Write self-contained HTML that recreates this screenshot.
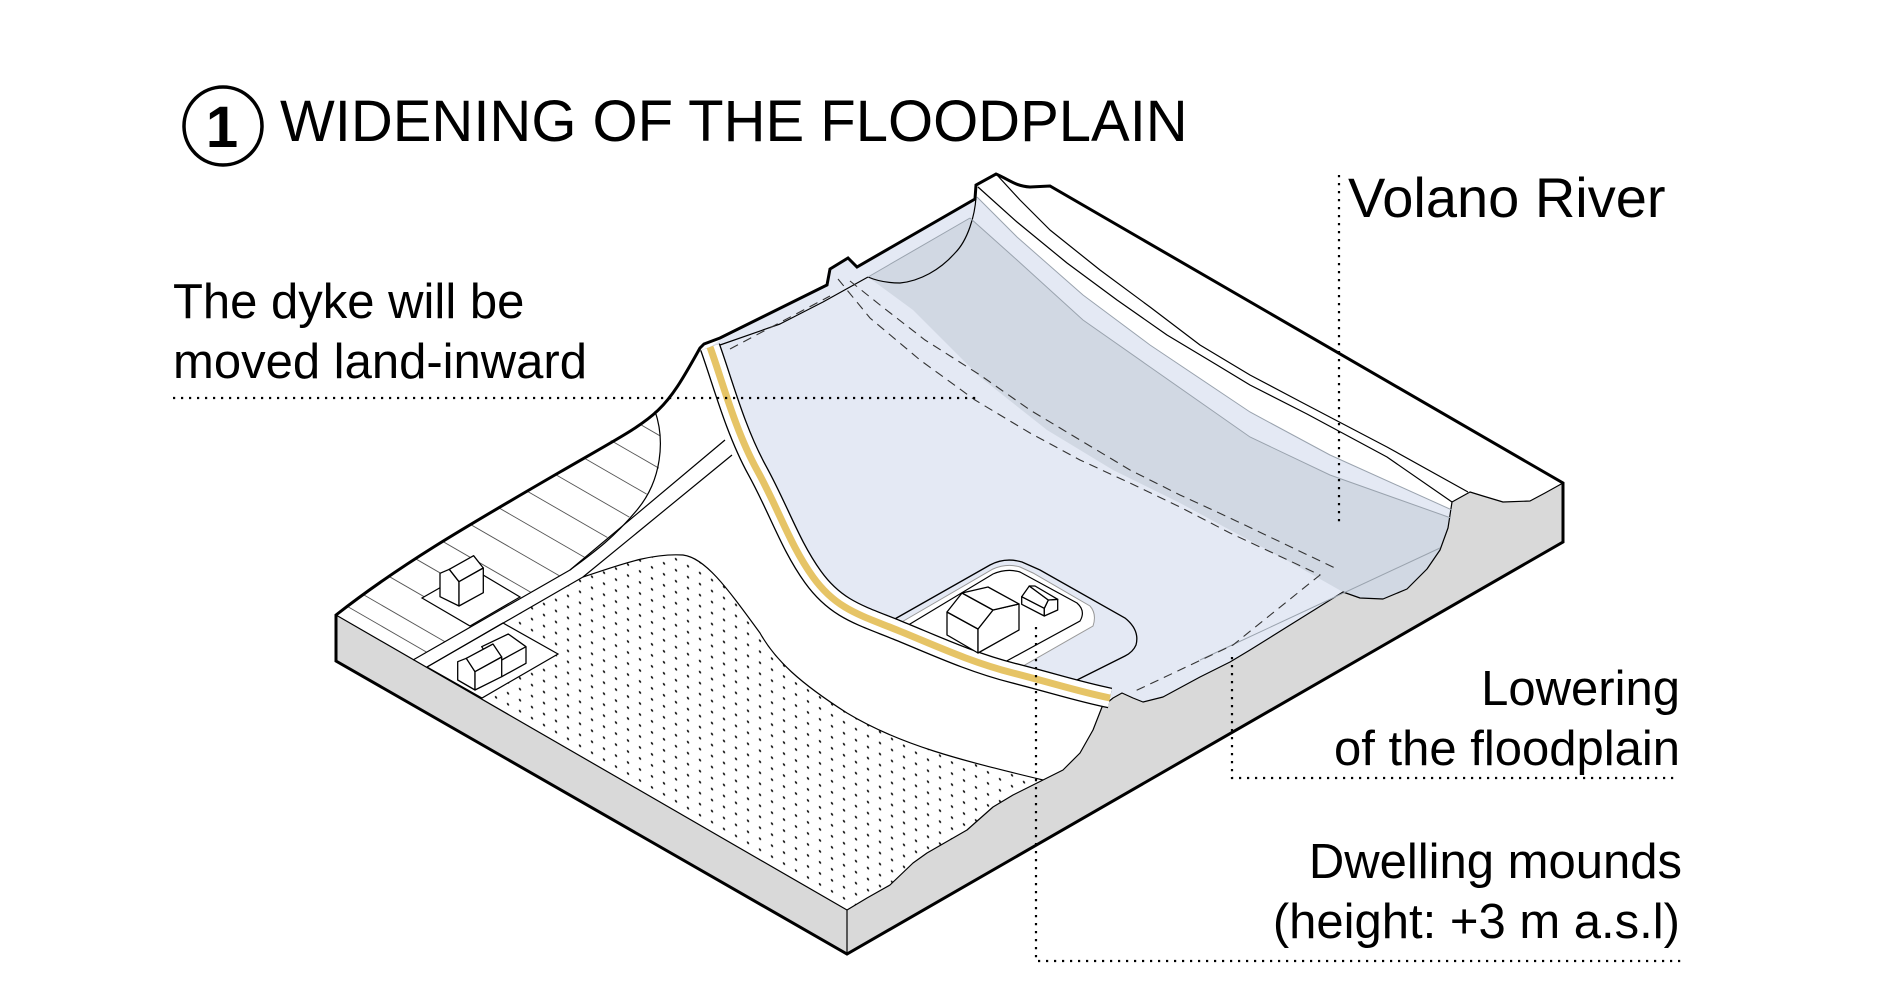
<!DOCTYPE html>
<html><head><meta charset="utf-8">
<style>
html,body{margin:0;padding:0;background:#fff}
svg{display:block}
text{font-family:"Liberation Sans",Arial,sans-serif;fill:#000}
</style></head>
<body>
<svg width="1892" height="998" viewBox="0 0 1892 998" xmlns="http://www.w3.org/2000/svg">
<defs>
  <pattern id="dots" width="12" height="11" patternUnits="userSpaceOnUse" patternTransform="skewY(30)">
    <circle cx="4" cy="4" r="1.2" fill="#222"/>
  </pattern>
  <clipPath id="hc">
    <polygon points="336,615 363,594 397,571 434,546 463,528 520,495 563,470 610,441 640,425 655,413 663,447 657,477 637,510 597,547 570,570 413,660"/>
  </clipPath>
</defs>

<!-- grey side faces -->
<path d="M336,615 L847,910 L867,898 L890,885 L913,863 L927,853 L967,830 L993,807 L1013,795 L1043,780 L1063,770 L1080,753 L1093,730 L1102,707 L1113,698 L1122,693 L1133,698 L1143,702 L1163,697 L1200,677 L1230,662 L1250,650 L1343,592 L1360,598 L1383,599 L1407,589 L1427,569 L1440,550 L1448,528 L1452,502 L1470,492 L1483,496 L1503,502 L1530,501 L1545,493 L1563,483 L1563,542 L847,954 L336,661 Z" fill="#d9d9d9"/>

<!-- light blue floodplain -->
<path d="M710,347 C722,380 735,430 757,470 S790,545 813,577 S860,615 897,630 S970,662 1013,673 S1080,692 1110,698 L1122,693 L1133,698 L1143,702 L1163,697 L1200,677 L1230,662 L1250,650 L1343,592 L1360,598 L1383,599 L1407,589 L1427,569 L1440,550 L1448,528 L1452,510 L1330,455 L1250,412 L1150,345 L1083,295 L1017,237 L977,197 L975,200 L857,268 L848,259 L830,270 L827,286 L720,340 Z" fill="#e4e9f4"/>

<!-- dark river channel -->
<path d="M868,277 L970,218 L1017,260 L1083,320 L1150,367 L1250,437 L1330,475 L1451,518 L1448,528 L1440,550 L1427,569 L1407,589 L1383,599 L1360,598 L1343,592 L1290,562 L1230,530 L1180,503 L1113,470 L1047,430 L980,377 L913,310 Z" fill="#d1d8e3"/>

<!-- dotted field -->
<path d="M482,698 L558,654 L503,623 L583,577 C620,565 650,553 683,555 C705,558 725,585 760,633 C775,660 800,683 847,713 C900,745 960,760 1043,780 L1013,795 L993,807 L967,830 L927,853 L913,863 L890,885 L867,898 L847,910 Z" fill="url(#dots)"/>

<!-- hatch lines -->
<g clip-path="url(#hc)" stroke="#555" stroke-width="0.9">
  <line x1="330" y1="245.4" x2="700" y2="458.9"/>
  <line x1="330" y1="278.4" x2="700" y2="491.9"/>
  <line x1="330" y1="311.4" x2="700" y2="524.9"/>
  <line x1="330" y1="344.4" x2="700" y2="557.9"/>
  <line x1="330" y1="377.4" x2="700" y2="590.9"/>
  <line x1="330" y1="410.4" x2="700" y2="623.9"/>
  <line x1="330" y1="443.4" x2="700" y2="656.9"/>
  <line x1="330" y1="476.4" x2="700" y2="689.9"/>
  <line x1="330" y1="509.4" x2="700" y2="722.9"/>
  <line x1="330" y1="542.4" x2="700" y2="755.9"/>
  <line x1="330" y1="575.4" x2="700" y2="788.9"/>
  <line x1="330" y1="596.4" x2="700" y2="809.9"/>
</g>

<!-- plots -->
<polygon points="422,598 470,626 520,597 473,569" fill="#fff" stroke="#000" stroke-width="1.2"/>
<polygon points="427,667 503,623 558,654 482,698" fill="#fff" stroke="#000" stroke-width="1.2"/>

<!-- thin linework -->
<g fill="none" stroke="#000" stroke-width="1.2" stroke-linejoin="round">
  <polyline points="413,660 570,570 725,440"/>
  <polyline points="427,667 583,577 732,455"/>
  <path d="M655,411 C665,440 662,480 637,510 S590,555 570,570"/>
  <path d="M583,577 C620,565 650,553 683,555 C705,558 725,585 760,633 C775,660 800,683 847,713 C900,745 960,760 1043,780"/>
  <polyline points="997,175 1020,200 1050,230 1100,270 1150,307 1200,345 1250,375 1303,403 1387,447 1468,492"/>
  <polyline points="978,187 1017,222 1067,263 1117,300 1167,335 1217,365 1250,385 1307,414 1387,457 1452,502"/>
  <polyline points="720,345 780,324 823,302 868,277"/>
  <path d="M976,197 C975,215 968,240 955,253 C940,270 920,281 900,283 C885,283 875,280 868,277"/>
  <!-- right face top edge -->
  <polyline points="847,910 867,898 890,885 913,863 927,853 967,830 993,807 1013,795 1043,780 1063,770 1080,753 1093,730 1102,707 1113,698 1122,693 1133,698 1143,702 1163,697 1200,677 1230,662 1250,650 1343,592 1360,598 1383,599 1407,589 1427,569 1440,550 1448,528 1452,502 1470,492 1483,496 1503,502 1530,501 1545,493 1563,483"/>
  <line x1="336" y1="615" x2="847" y2="910"/>
  <line x1="847" y1="910" x2="847" y2="954"/>
</g>
<g fill="none" stroke="#9aa3ae" stroke-width="1">
  <polyline points="977,197 1017,237 1083,295 1150,345 1250,412 1330,455 1452,510"/>
  <polyline points="970,218 1017,260 1083,320 1150,367 1250,437 1330,475 1451,518"/>
  <line x1="868" y1="277" x2="970" y2="218"/>
  <line x1="1200" y1="660" x2="1440" y2="548"/>
</g>
<g fill="none" stroke="#333" stroke-width="1.1" stroke-dasharray="9 6">
  <polyline points="838,279 870,318 920,360 975,400 1030,433 1080,460 1130,483 1180,507 1230,533 1320,575 1233,645 1133,692"/>
  <polyline points="850,281 880,305 925,340 980,375 1030,410 1080,440 1130,470 1180,495 1230,518 1335,568"/>
  <line x1="730" y1="349" x2="830" y2="296"/>
</g>

<!-- mound -->
<path d="M893,620 L990,565 Q1005,557 1022,562 L1040,570 L1125,618 Q1140,630 1136,645 Q1133,652 1125,656 L1077,680" fill="none" stroke="#000" stroke-width="1.3"/>
<path d="M900,623 L993,569 Q1007,563 1020,567 L1033,573 L1090,606 Q1097,614 1093,626 L1023,666 L1010,668 L947,648 L900,625 Z" fill="#fff" stroke="#999" stroke-width="1"/>
<path d="M905,627 L993,574 Q1007,568 1020,572 L1077,603 Q1086,611 1080,621 L1003,663" fill="#fff" stroke="#000" stroke-width="1.2"/>

<!-- dyke -->
<g fill="none" stroke-linecap="butt">
  <path d="M710,347 C722,380 735,430 757,470 S790,545 813,577 S860,615 897,630 S970,662 1013,673 S1080,692 1110,698" stroke="#000" stroke-width="21"/>
  <path d="M710,347 C722,380 735,430 757,470 S790,545 813,577 S860,615 897,630 S970,662 1013,673 S1080,692 1110,698" stroke="#fff" stroke-width="18.4"/>
  <path d="M710,347 C722,380 735,430 757,470 S790,545 813,577 S860,615 897,630 S970,662 1013,673 S1080,692 1110,698" stroke="#e6c466" stroke-width="7"/>
</g>

<!-- houses -->
<g fill="#fff" stroke="#000" stroke-width="1.3" stroke-linejoin="round">
  <!-- house 1 -->
  <polygon points="440,596.7 459,606 459,581.7 449.3,569.3 440,573.3"/>
  <polygon points="449.3,569.3 473.6,555.7 483.3,568 459,581.7"/>
  <polygon points="459,581.7 483.3,568 483.3,592.7 459,606"/>
  <!-- house 2 back -->
  <polygon points="481.7,646.7 508.3,634 526,646.7 526,663.3 501.7,676.7"/>
  <line x1="501.7" y1="660" x2="526" y2="646.7"/>
  <!-- house 2 main -->
  <polygon points="457.7,680 475,690 475,671.7 466.3,658.3 457.7,661.7"/>
  <polygon points="466.3,658.3 493,644 501.7,657 475,671.7"/>
  <polygon points="475,671.7 501.7,657 501.7,676.7 475,690"/>
  <!-- big house on mound -->
  <polygon points="947,612 978,629 978,653 947,635"/>
  <polygon points="978,629 993,610 1019,604 1019,630 978,653"/>
  <polygon points="947,612 962,593 993,610 978,629"/>
  <polygon points="962,593 988,587 1019,604 993,610"/>
  <!-- small house -->
  <polygon points="1021.7,596.7 1044.3,608.3 1044.3,616 1021.7,604.3"/>
  <polygon points="1044.3,608.3 1048.3,600 1057.7,599.3 1057.7,610 1044.3,616"/>
  <polygon points="1021.7,596.7 1029.3,586 1048.3,600 1044.3,608.3"/>
  <polygon points="1029.3,586 1035,586 1057.7,599.3 1048.3,600"/>
</g>

<!-- thick outline -->
<path d="M336,661 L336,615 C400,565 460,530 560,472 S660,420 700,348 L704,344 L720,338 L827,285 L830,269 L848,258 L857,267 L975,199 L976,185 L996,174 C1010,180 1015,186 1030,187 L1050,186 L1563,483 L1563,542 L847,954 Z" fill="none" stroke="#000" stroke-width="3" stroke-linejoin="miter"/>

<!-- leaders -->
<g fill="none" stroke="#000" stroke-width="2.2" stroke-dasharray="2.2 5.8">
  <line x1="173" y1="398" x2="979" y2="398"/>
  <line x1="1339" y1="175" x2="1339" y2="522"/>
  <polyline points="1232,657 1232,778 1678,778"/>
  <polyline points="1036,627 1036,961 1686,961"/>
</g>

<!-- title -->
<circle cx="223" cy="126" r="39" fill="none" stroke="#000" stroke-width="3.5"/>
<text x="222" y="147" font-size="58" font-weight="bold" text-anchor="middle">1</text>
<text x="280" y="141" font-size="58">WIDENING OF THE FLOODPLAIN</text>

<!-- labels -->
<text x="173" y="318" font-size="49">The dyke will be</text>
<text x="173" y="378" font-size="49">moved land-inward</text>
<text x="1348" y="217" font-size="56">Volano River</text>
<text x="1680" y="705" font-size="49" text-anchor="end">Lowering</text>
<text x="1680" y="765" font-size="49" text-anchor="end">of the floodplain</text>
<text x="1682" y="878" font-size="49" text-anchor="end">Dwelling mounds</text>
<text x="1680" y="938" font-size="49" text-anchor="end">(height: +3 m a.s.l)</text>
</svg>
</body></html>
